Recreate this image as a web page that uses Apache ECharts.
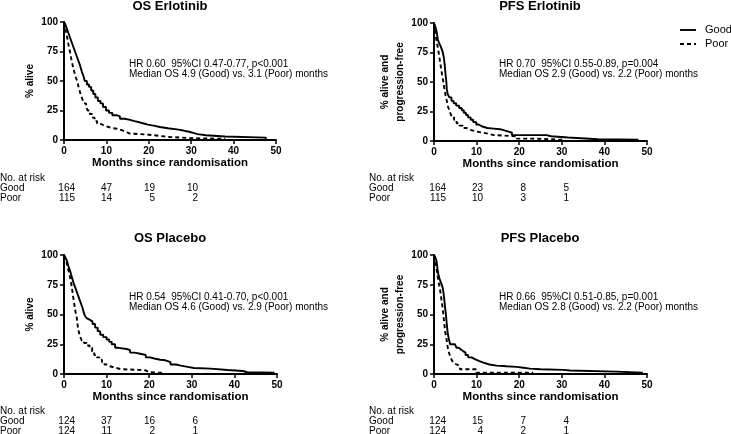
<!DOCTYPE html>
<html>
<head>
<meta charset="utf-8">
<script src="https://cdn.jsdelivr.net/npm/echarts@6/dist/echarts.min.js"></script>
<style>html,body{margin:0;padding:0;background:#fff;}#main{width:731px;height:434px;}</style>
</head>
<body>
<div id="main"></div>
<script>
// ---------- DATA ----------
const xTicks = [0, 10, 20, 30, 40, 50];
const yTicks = [0, 25, 50, 75, 100];
const groups = ['Good', 'Poor'];
const riskTimes = [0, 10, 20, 30];

const panelTitles = ['OS Erlotinib', 'PFS Erlotinib', 'OS Placebo', 'PFS Placebo'];
const yTitles = ['% alive', '% alive and\nprogression-free', '% alive', '% alive and\nprogression-free'];
const hrTexts = [
  'HR 0.60  95%CI 0.47-0.77, p<0.001',
  'HR 0.70  95%CI 0.55-0.89, p=0.004',
  'HR 0.54  95%CI 0.41-0.70, p<0.001',
  'HR 0.66  95%CI 0.51-0.85, p=0.001'
];
const medianTexts = [
  'Median OS 4.9 (Good) vs. 3.1 (Poor) months',
  'Median OS 2.9 (Good) vs. 2.2 (Poor) months',
  'Median OS 4.6 (Good) vs. 2.9 (Poor) months',
  'Median OS 2.8 (Good) vs. 2.2 (Poor) months'
];

// numbers at risk at 0, 10, 20, 30 months
const osErloRiskGood = [164, 47, 19, 10];
const osErloRiskPoor = [115, 14, 5, 2];
const pfsErloRiskGood = [164, 23, 8, 5];
const pfsErloRiskPoor = [115, 10, 3, 1];
const osPlacRiskGood = [124, 37, 16, 6];
const osPlacRiskPoor = [124, 11, 2, 1];
const pfsPlacRiskGood = [124, 15, 7, 4];
const pfsPlacRiskPoor = [124, 4, 2, 1];

// Kaplan-Meier steps: [month, % surviving from that month on]
const osErloGood = [[0,100],[0.3,98],[0.6,95],[0.9,92],[1.2,89],[1.5,86],[1.9,82],[2.3,78],[2.6,75],[3.0,71],[3.4,67],[3.8,63],[4.2,58],[4.6,54],[4.9,50],[5.4,47],[5.9,45],[6.4,42],[6.9,39],[7.4,36],[8.0,33],[8.6,31],[9.2,28],[9.9,25],[10.6,23],[11.4,21],[12.4,20],[13.2,18],[14.3,17],[15.6,16],[16.6,15],[17.8,14],[18.8,13],[19.8,12],[21.4,11],[22.6,10],[24.5,9],[26.6,8],[28.2,7],[29.5,6],[30.5,5],[31.5,4],[33.5,3],[38,2],[47.6,0]];
const osErloPoor = [[0,100],[0.2,96],[0.5,91],[0.8,86],[1.1,80],[1.4,75],[1.7,69],[2.0,64],[2.4,58],[2.8,53],[3.1,50],[3.5,44],[3.9,39],[4.3,35],[4.7,31],[5.2,28],[5.6,25],[6.1,22],[6.6,19],[7.2,16],[7.8,14],[8.5,12.5],[9.3,11],[10.5,10],[11.5,9.5],[12.5,8.5],[13.5,7],[14.5,5.5],[15.5,4.5],[20,3.5],[22.5,2.5],[25,2],[28,1.5],[30,1],[38,1]];
const pfsErloGood = [[0,100],[0.3,97],[0.6,93],[0.9,86],[1.2,83],[1.6,80],[2.0,76],[2.3,71],[2.5,65],[2.7,57],[2.9,50],[3.0,44],[3.2,40],[3.6,37],[4.1,34],[4.6,32],[5.2,30],[5.9,28],[6.5,26],[7.0,24],[7.5,22],[8.0,20],[8.6,18],[9.2,16],[9.9,14],[10.5,12.5],[11.2,11],[12.5,10.5],[14,10],[15.5,9],[16.5,8],[17.5,7],[18.3,5],[26.4,4],[27.5,3],[31.5,1.5],[38.5,1],[48,1]];
const pfsErloPoor = [[0,100],[0.2,94],[0.4,89],[0.7,83],[1.0,77],[1.3,70],[1.6,63],[1.9,56],[2.2,50],[2.4,45],[2.7,39],[3.0,34],[3.3,29],[3.7,25],[4.1,21],[4.7,18],[5.3,15],[6.0,13],[6.8,11],[7.7,9.5],[8.6,8],[10,7],[11.5,6],[13,5],[14,4],[19.4,2],[24,1],[30.3,1]];
const osPlacGood = [[0,100],[0.3,98],[0.7,95],[1.0,91],[1.4,87],[1.8,82],[2.2,77],[2.6,73],[3.0,69],[3.4,65],[3.8,61],[4.1,58],[4.4,55],[4.6,52],[4.9,49],[5.3,47],[5.7,45.5],[6.1,44],[6.7,42],[7.3,39],[7.9,36],[8.5,33],[9.2,31],[10,29],[10.6,27],[11.2,25],[12,22],[12.8,21],[14.7,20],[15.5,18],[16.5,17],[17.9,16],[19.2,14],[20.2,13],[21.2,12],[22.6,11.5],[23.8,10],[25,8],[26.3,7],[27.4,6],[29,5],[30.5,4.5],[34.4,3.4],[38.4,2.5],[42,1.5],[43,1],[49.4,1]];
const osPlacPoor = [[0,100],[0.3,97],[0.6,94],[0.9,89],[1.2,85],[1.5,80],[1.8,74],[2.1,66],[2.4,59],[2.7,52],[2.9,50],[3.2,41],[3.5,35],[3.8,31],[4.2,28],[4.7,26],[5.3,24],[6.0,22],[6.6,19],[7.1,16],[7.7,14],[8.3,12],[8.9,10],[9.5,8],[10.2,6.5],[10.8,5.3],[12,4],[13.5,3.5],[17.5,3],[19.2,1.5],[20,1],[23,1]];
const pfsPlacGood = [[0,100],[0.3,98],[0.6,95],[0.8,89],[1.0,84],[1.3,80],[1.6,77],[2.0,73],[2.2,69],[2.4,63],[2.6,56],[2.8,50],[3.0,42],[3.2,35],[3.5,29],[3.8,25],[4.9,23.5],[5.3,22],[5.8,20.5],[6.4,19],[6.9,18],[7.4,16],[8.0,14],[8.8,12.5],[9.6,11],[10.5,9.5],[11.6,8],[13,7],[14.7,6.5],[17,6],[19.4,5.3],[21,4.5],[22.5,4],[25,3.5],[30.3,3],[31.9,2],[42.8,1],[49,1]];
const pfsPlacPoor = [[0,100],[0.2,97],[0.4,93],[0.6,88],[0.8,84],[1.0,79],[1.2,75],[1.5,69],[1.8,61],[2.0,56],[2.2,50],[2.4,43],[2.6,36],[2.8,32],[3.0,28],[3.2,23],[3.4,19],[3.7,16],[3.9,14],[4.2,11.5],[4.5,9.5],[4.9,8],[5.3,6.7],[6.1,4],[10,1],[23.3,1]];

const goodCurves = [osErloGood, pfsErloGood, osPlacGood, pfsPlacGood];
const poorCurves = [osErloPoor, pfsErloPoor, osPlacPoor, pfsPlacPoor];
const riskGood = [osErloRiskGood, pfsErloRiskGood, osPlacRiskGood, pfsPlacRiskGood];
const riskPoor = [osErloRiskPoor, pfsErloRiskPoor, osPlacRiskPoor, pfsPlacRiskPoor];

// ---------- LAYOUT ----------
const FONT = "'Liberation Sans', Arial, Helvetica, sans-serif";
const offX = [0, 370, 0, 370];
const offY = [0, 0, 233, 233];
const titleY = [6, 6, 238, 238];
const gridBase = { left: 64, top: 22, width: 212, height: 118 };
const riskColRight = [75, 112, 155, 198];
const dashPoor = [4, 3];

const chart = echarts.init(document.getElementById('main'), null, { renderer: 'canvas' });

const grids = [], xAxes = [], yAxes = [], series = [], graphics = [];
for (let i = 0; i < 4; i++) {
  const ox = offX[i], oy = offY[i];
  grids.push({ left: gridBase.left + ox, top: gridBase.top + oy + (i === 1 ? 1 : 0), width: gridBase.width + (i ? 1 : 0), height: gridBase.height + (i >= 2 ? 1 : 0), containLabel: false });
  xAxes.push({
    gridIndex: i, type: 'value', min: xTicks[0], max: xTicks[xTicks.length - 1], interval: xTicks[1] - xTicks[0],
    axisLine: { show: true, onZero: false, lineStyle: { color: '#000', width: 2 } },
    axisTick: { show: true, length: 4, lineStyle: { color: '#000', width: 1.5 } },
    axisLabel: { color: '#000', fontWeight: 'bold', fontSize: 10, fontFamily: FONT, margin: 6 },
    splitLine: { show: false },
    name: 'Months since randomisation', nameLocation: 'middle', nameGap: 17,
    nameTextStyle: { color: '#000', fontWeight: 'bold', fontSize: 11.5, fontFamily: FONT }
  });
  yAxes.push({
    gridIndex: i, type: 'value', min: yTicks[0], max: yTicks[yTicks.length - 1], interval: yTicks[1] - yTicks[0],
    axisLine: { show: true, onZero: false, lineStyle: { color: '#000', width: 2 } },
    axisTick: { show: true, length: 4, lineStyle: { color: '#000', width: 1.5 } },
    axisLabel: { color: '#000', fontWeight: 'bold', fontSize: 10, fontFamily: FONT, margin: 6 },
    splitLine: { show: false },
    name: yTitles[i], nameLocation: 'middle', nameGap: (i % 2 === 0) ? 26 : 21,
    nameTextStyle: { color: '#000', fontWeight: 'bold', fontSize: 10, fontFamily: FONT, lineHeight: 15 }
  });
  series.push({
    type: 'line', name: groups[0], xAxisIndex: i, yAxisIndex: i, data: goodCurves[i], step: 'end',
    symbol: 'none', showSymbol: false, silent: true,
    lineStyle: { color: '#000', width: 1.9, type: 'solid' }, itemStyle: { color: '#000' }
  });
  series.push({
    type: 'line', name: groups[1], xAxisIndex: i, yAxisIndex: i, data: poorCurves[i], step: 'end',
    symbol: 'none', showSymbol: false, silent: true,
    lineStyle: { color: '#000', width: 1.9, type: dashPoor }, itemStyle: { color: '#000' }
  });

  // panel title
  graphics.push({ type: 'text', x: 170 + ox, y: titleY[i],
    style: { text: panelTitles[i], fill: '#000', font: 'bold 13px ' + FONT, align: 'center', verticalAlign: 'middle' } });
  // annotation
  graphics.push({ type: 'text', x: 129 + ox, y: 64 + oy,
    style: { text: hrTexts[i], fill: '#000', font: '10px ' + FONT, align: 'left', verticalAlign: 'middle' } });
  graphics.push({ type: 'text', x: 129 + ox, y: 74.5 + oy,
    style: { text: medianTexts[i], fill: '#000', font: '10px ' + FONT, align: 'left', verticalAlign: 'middle' } });
  // number at risk table
  const lx = (i % 2 === 0) ? 0 : 369;
  graphics.push({ type: 'text', x: lx, y: 178 + oy,
    style: { text: 'No. at risk', fill: '#000', font: '10px ' + FONT, align: 'left', verticalAlign: 'middle' } });
  graphics.push({ type: 'text', x: lx, y: 188 + oy,
    style: { text: groups[0], fill: '#000', font: '10px ' + FONT, align: 'left', verticalAlign: 'middle' } });
  graphics.push({ type: 'text', x: lx, y: 198 + oy,
    style: { text: groups[1], fill: '#000', font: '10px ' + FONT, align: 'left', verticalAlign: 'middle' } });
  for (let k = 0; k < riskTimes.length; k++) {
    graphics.push({ type: 'text', x: riskColRight[k] + ox + (i % 2 ? 1 : 0), y: 188 + oy,
      style: { text: String(riskGood[i][k]), fill: '#000', font: '10px ' + FONT, align: 'right', verticalAlign: 'middle' } });
    graphics.push({ type: 'text', x: riskColRight[k] + ox + (i % 2 ? 1 : 0), y: 198 + oy,
      style: { text: String(riskPoor[i][k]), fill: '#000', font: '10px ' + FONT, align: 'right', verticalAlign: 'middle' } });
  }
}

// legend (drawn as line + label)
const legendX = 680, legendY = [30, 44];
groups.forEach((g, j) => {
  graphics.push({ type: 'line', shape: { x1: legendX, y1: legendY[j], x2: legendX + 16, y2: legendY[j] },
    style: { stroke: '#000', lineWidth: 1.9, lineDash: j === 0 ? null : dashPoor } });
  graphics.push({ type: 'text', x: legendX + 25, y: legendY[j],
    style: { text: g, fill: '#000', font: '11px ' + FONT, align: 'left', verticalAlign: 'middle' } });
});

chart.setOption({
  animation: false,
  backgroundColor: '#fff',
  grid: grids,
  xAxis: xAxes,
  yAxis: yAxes,
  series: series,
  graphic: graphics
});
</script>
</body>
</html>
